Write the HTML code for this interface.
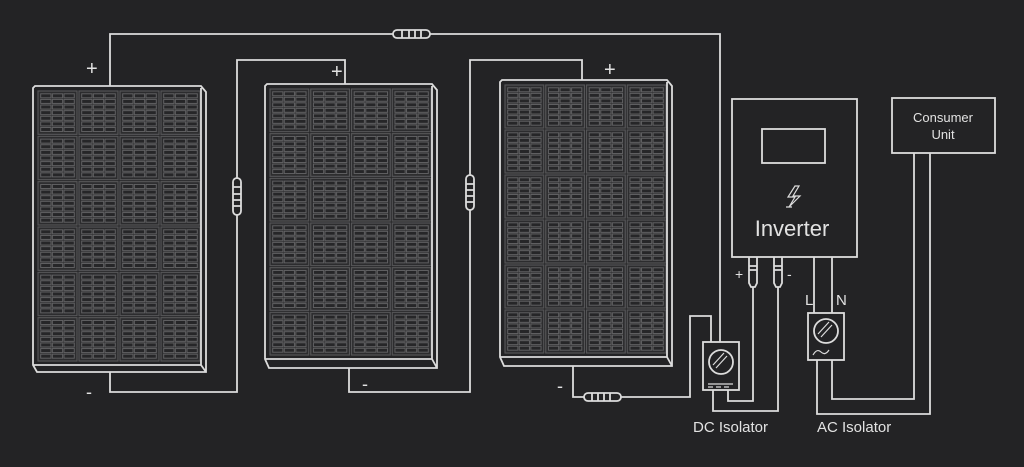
<!DOCTYPE html>
<html><head><meta charset="utf-8"><style>
html,body{margin:0;padding:0;background:#232325;}
svg{display:block;}
text{font-family:"Liberation Sans",sans-serif;fill:#e2e2e2;}
</style></head><body>
<svg id="s" width="1024" height="467" viewBox="0 0 1024 467" xmlns="http://www.w3.org/2000/svg">
<rect width="1024" height="467" fill="#232325"/>
<g id="panels"></g>
<g fill="none" stroke="#dcdcdc" stroke-width="1.8">
<path d="M33 88 L33 365 L37 372 L206 372 L206 92 L201 86 L35 86 Z M33 365 L201 365 L201 88 M201 365 L206 372"/>
<path d="M265 86 L265 359 L269 368 L437 368 L437 90 L432 84 L267 84 Z M265 359 L432 359 L432 86 M432 359 L437 368"/>
<path d="M500 82 L500 357 L504 366 L672 366 L672 86 L667 80 L502 80 Z M500 357 L667 357 L667 82 M667 357 L672 366"/>
<path d="M110 86 V34 H393 M430 34 H720 V342"/>
<path d="M110 372 V392 H237 V215 M237 178 V60 H345 V84"/>
<path d="M349 368 V392 H470 V210 M470 175 V60 H582 V80"/>
<path d="M573 366 V397 H584 M621 397 H690 V316 H711 V342"/>
<path d="M713 390 V411 H778 V287"/>
<path d="M728 390 V401 H753 V287"/>
<path d="M814 257 V313 M832 257 V313"/>
<path d="M817 360 V414 H930 V153"/>
<path d="M832 360 V399 H914 V153"/>
<rect x="393" y="30" width="37" height="8" rx="4"/><path d="M402 30V38M409 30V38M415 30V38M421 30V38"/>
<rect x="233" y="178" width="8" height="37" rx="4"/><path d="M233 187H241M233 194H241M233 200H241M233 206H241"/>
<rect x="466" y="175" width="8" height="35" rx="4"/><path d="M466 184H474M466 190H474M466 196H474M466 202H474"/>
<rect x="584" y="393" width="37" height="8" rx="4"/><path d="M592 393V401M598 393V401M604 393V401M610 393V401"/>
<path d="M749 257 V283 L751 287 H755 L757 283 V257 M749 266H757M749 270H757"/>
<path d="M774 257 V283 L776 287 H780 L782 283 V257 M774 266H782M774 270H782"/>
<rect x="732" y="99" width="125" height="158" fill="#232325"/>
<rect x="762" y="129" width="63" height="34"/>
<path d="M795 186 L788 197 L795 197 L789 207 L800 196 L793 196 L799 186 Z M786 207 H792" stroke-width="1.2"/>
<rect x="892" y="98" width="103" height="55" fill="#232325"/>
<rect x="703" y="342" width="36" height="48" fill="#232325"/>
<circle cx="721" cy="362" r="12"/>
<path d="M716 368 L727 356 M713 365 L724 353" stroke-width="1.2"/>
<path d="M708 384 H733 M708 387 H713 M716 387 H721 M724 387 H729" stroke-width="1.2"/>
<rect x="808" y="313" width="36" height="47" fill="#232325"/>
<circle cx="826" cy="331" r="12"/>
<path d="M821 337 L832 325 M818 334 L829 322" stroke-width="1.2"/>
<path d="M813 355 Q817 348 821 352 Q825 356 829 350" stroke-width="1.2"/>
</g>
<g font-size="15">
<text x="86" y="75" font-size="20">+</text>
<text x="331" y="78" font-size="20">+</text>
<text x="604" y="76" font-size="20">+</text>
<text x="86" y="398" font-size="18">-</text>
<text x="362" y="390" font-size="18">-</text>
<text x="557" y="392" font-size="18">-</text>
<text x="735" y="279" font-size="14">+</text>
<text x="787" y="279" font-size="14">-</text>
<text x="805" y="305">L</text>
<text x="836" y="305">N</text>
<text x="693" y="432">DC Isolator</text>
<text x="817" y="432">AC Isolator</text>
<text x="792" y="236" font-size="22" text-anchor="middle">Inverter</text>
<text x="943" y="122" font-size="13" text-anchor="middle">Consumer</text>
<text x="943" y="139" font-size="13" text-anchor="middle">Unit</text>
</g>
</svg>
<script>
(function(){
var g=document.getElementById("panels"),out="";
var P=[[37,90,164,272],[269,88,163,268],[504,84,163,270]];
P.forEach(function(p){
 var cw=p[2]/4,ch=p[3]/6;
 for(var r=0;r<6;r++)for(var c=0;c<4;c++){
  var x=p[0]+c*cw,y=p[1]+r*ch;
  out+='<rect x="'+(x+1)+'" y="'+(y+1)+'" width="'+(cw-2)+'" height="'+(ch-2)+'" fill="#2c2c2e" stroke="#555557" stroke-width="1.2"/>';
  var sw=(cw-6)/3,sh=(ch-6)/7;
  for(var i=0;i<3;i++)for(var j=0;j<7;j++){
   out+='<rect x="'+(x+3+i*sw+0.7)+'" y="'+(y+3+j*sh+0.8)+'" width="'+(sw-1.4)+'" height="'+(sh-1.6)+'" fill="#262628" stroke="#606062" stroke-width="1"/>';
  }
 }
});
g.innerHTML=out;
})();
</script>
</body></html>
